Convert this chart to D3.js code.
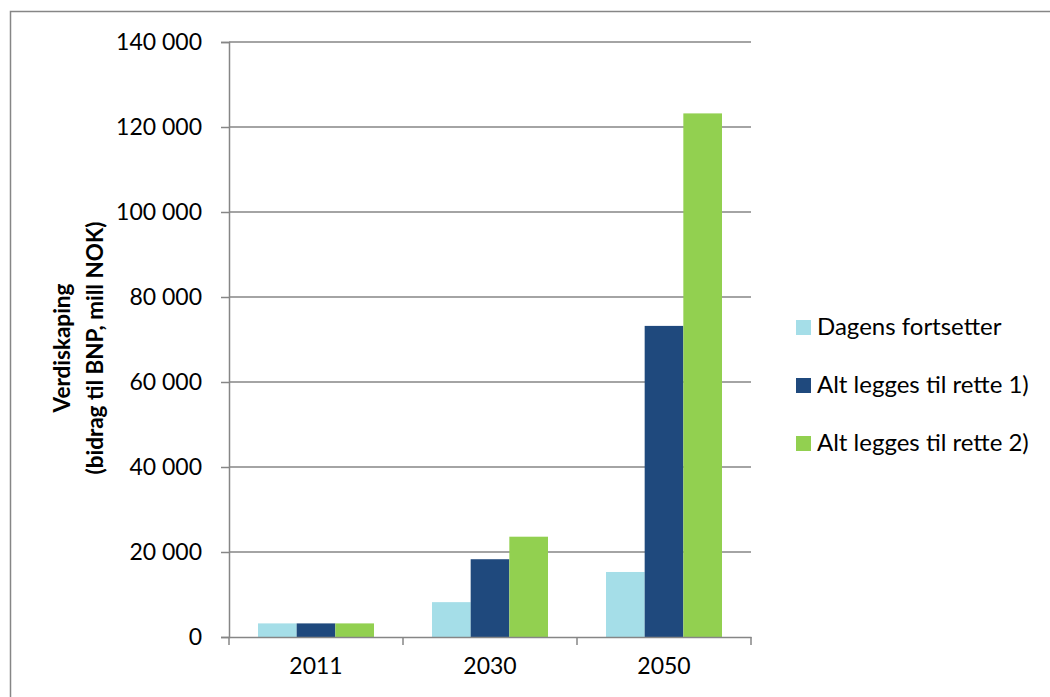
<!DOCTYPE html>
<html lang="no">
<head>
    <meta charset="UTF-8">
    <script src="https://d3js.org/d3.v7.min.js"></script>
    <title>Verdiskaping</title>
    <style>
        body { margin: 0; background: #fff; }
        text { font-family: Lato, "Liberation Sans", sans-serif; fill: #000; }
    </style>
</head>
<body>
    <script>
        const years = ["2011", "2030", "2050"];
        const seriesNames = ["Dagens fortsetter", "Alt legges til rette 1)", "Alt legges til rette 2)"];
        const dagens = [3200, 8200, 15300];
        const alt1 = [3200, 18300, 73200];
        const alt2 = [3200, 23600, 123200];
        const yTicks = [0, 20000, 40000, 60000, 80000, 100000, 120000, 140000];
        const colors = ["#a5dee8", "#1f497d", "#92d050"];

        const width = 1050;
        const height = 697;
        const margin = {top: 42, right: 299, bottom: 60, left: 229};

        const rows = years.map((yr, i) => ({
            year: yr,
            values: [dagens[i], alt1[i], alt2[i]]
        }));

        // one band per year; bars take 3 of 4.5 widths (gap 150%)
        const xOuter = d3.scaleBand()
            .domain(years)
            .range([margin.left, width - margin.right]);

        const xInner = d3.scaleBand()
            .domain(d3.range(3))
            .range([0, xOuter.bandwidth() * 3 / 4.5]);

        const y = d3.scaleLinear()
            .domain([0, 140000])
            .range([height - margin.bottom, margin.top]);

        const svg = d3.select('body')
            .append('svg')
            .attr('width', width)
            .attr('height', height);

        // outer chart frame
        svg.append('rect')
            .attr('x', 10.5)
            .attr('y', 11.5)
            .attr('width', width)
            .attr('height', height)
            .attr('fill', 'none')
            .attr('stroke', '#868686')
            .attr('stroke-width', 1.5);

        const fmt = d => d3.format(',')(d).replace(/,/g, ' ');

        // gridlines
        svg.append('g')
            .selectAll('line')
            .data(yTicks.filter(d => d > 0))
            .enter()
            .append('line')
            .attr('x1', margin.left)
            .attr('x2', width - margin.right)
            .attr('y1', d => y(d))
            .attr('y2', d => y(d))
            .attr('stroke', '#868686')
            .attr('stroke-width', 1.5);

        // bars
        const groups = svg.append('g')
            .selectAll('g')
            .data(rows)
            .enter()
            .append('g')
            .attr('transform', d => `translate(${xOuter(d.year) + xOuter.bandwidth() * 0.75 / 4.5},0)`);

        groups.selectAll('rect')
            .data(d => d.values.map((v, i) => ({v, i})))
            .enter()
            .append('rect')
            .attr('x', d => xInner(d.i))
            .attr('y', d => y(d.v))
            .attr('width', xInner.bandwidth())
            .attr('height', d => y(0) - y(d.v))
            .attr('fill', d => colors[d.i]);

        // y axis
        const yAxis = d3.axisLeft(y)
            .tickValues(yTicks)
            .tickFormat(fmt)
            .tickSize(8)
            .tickPadding(19);

        const gy = svg.append('g')
            .attr('transform', `translate(${margin.left},0)`)
            .call(yAxis);
        gy.select('.domain').attr('stroke', '#868686').attr('stroke-width', 1.5);
        gy.selectAll('.tick line').attr('stroke', '#868686').attr('stroke-width', 1.5);
        gy.selectAll('.tick text')
            .attr('font-size', 23)
            .attr('font-family', 'Lato, sans-serif')
            .attr('fill', '#000');

        // x axis with ticks between categories
        const xAxis = d3.axisBottom(xOuter).tickSize(0).tickPadding(21);
        const gx = svg.append('g')
            .attr('transform', `translate(0,${y(0)})`)
            .call(xAxis);
        gx.select('.domain').attr('stroke', '#868686').attr('stroke-width', 1.5);
        gx.selectAll('.tick text')
            .attr('font-size', 23)
            .attr('font-family', 'Lato, sans-serif')
            .attr('fill', '#000');

        const boundaries = years.map(d => xOuter(d)).concat([xOuter(years[years.length - 1]) + xOuter.step()]);
        gx.selectAll('.sep')
            .data(boundaries)
            .enter()
            .append('line')
            .attr('class', 'sep')
            .attr('x1', d => d)
            .attr('x2', d => d)
            .attr('y1', 0)
            .attr('y2', 8)
            .attr('stroke', '#868686')
            .attr('stroke-width', 1.5);

        // y title
        const yTitle = svg.append('text')
            .attr('transform', `translate(62,348) rotate(-90)`)
            .attr('text-anchor', 'middle')
            .attr('font-weight', 'bold')
            .attr('font-size', 22.5);
        yTitle.append('tspan').attr('x', 0).attr('dy', '0.35em').text('Verdiskaping');
        yTitle.append('tspan').attr('x', 0).attr('dy', '1.45em').text('(bidrag til BNP, mill NOK)');

        // legend
        const legend = svg.append('g')
            .selectAll('g')
            .data(seriesNames)
            .enter()
            .append('g')
            .attr('transform', (d, i) => `translate(796,${327 + i * 58})`);

        legend.append('rect')
            .attr('x', 0)
            .attr('y', -7)
            .attr('width', 15)
            .attr('height', 15)
            .attr('fill', (d, i) => colors[i]);

        legend.append('text')
            .attr('x', 21)
            .attr('y', 0)
            .attr('dy', '0.35em')
            .attr('font-size', 24)
            .text(d => d);
    </script>
</body>
</html>
